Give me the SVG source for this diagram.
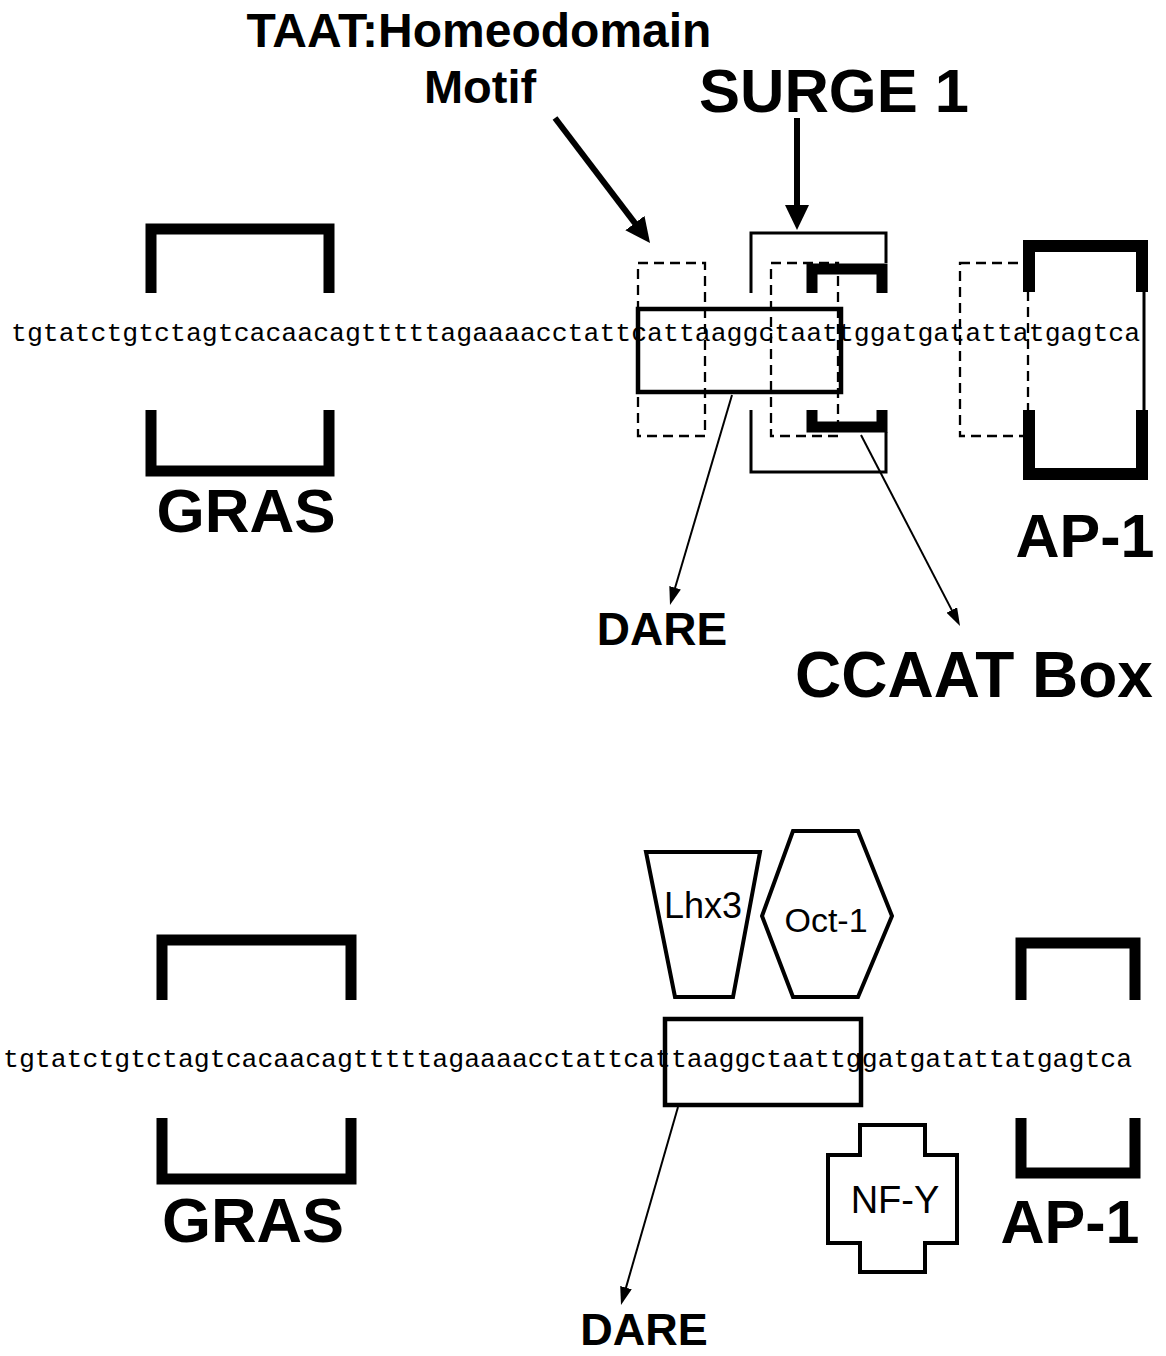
<svg xmlns="http://www.w3.org/2000/svg" width="1166" height="1356" viewBox="0 0 1166 1356">
<style>
.seq{font-family:"Liberation Mono","Courier New",monospace;font-size:26.5px;fill:#000}
.lbl{font-family:"Liberation Sans",Arial,sans-serif;font-weight:bold;fill:#000;text-anchor:middle}
.prot{font-family:"Liberation Sans",Arial,sans-serif;fill:#000;text-anchor:middle}
.brk{fill:none;stroke:#000;stroke-width:11;stroke-linejoin:miter}
.thin{fill:none;stroke:#000;stroke-width:3}
.dash{fill:none;stroke:#000;stroke-width:2.3;stroke-dasharray:10,6}
.box{fill:none;stroke:#000;stroke-width:4.5}
.shape{fill:#fff;stroke:#000;stroke-width:4;stroke-linejoin:miter}
.big{stroke:#000;stroke-width:6;fill:none}
.small{stroke:#000;stroke-width:2;fill:none}
</style>
<defs>
<marker id="headBig" markerUnits="userSpaceOnUse" markerWidth="26" markerHeight="24" refX="1" refY="12" orient="auto"><path d="M0,0 L25,12 L0,24 z" fill="#000"/></marker>
<marker id="headSmall" markerUnits="userSpaceOnUse" markerWidth="19" markerHeight="12" refX="1" refY="6" orient="auto"><path d="M0,0 L18,6 L0,12 z" fill="#000"/></marker>
</defs>
<rect width="1166" height="1356" fill="#fff"/>

<!-- top panel -->
<text class="seq" x="11" y="341">tgtatctgtctagtcacaacagtttttagaaaacctattcattaaggctaattggatgatattatgagtca</text>

<g id="top-labels">
<text class="lbl" x="479" y="47" font-size="48">TAAT:Homeodomain</text>
<text class="lbl" x="480" y="103" font-size="47">Motif</text>
<text class="lbl" x="834" y="112" font-size="61.5">SURGE 1</text>
</g>

<g id="top-gras">
<path class="brk" d="M151 293 V229 H329 V293"/>
<path class="brk" d="M151 410 V471 H329 V410"/>
<text class="lbl" x="246" y="532" font-size="62">GRAS</text>
</g>

<g id="top-taat">
<rect class="dash" x="638" y="263" width="67" height="173"/>
</g>

<g id="top-surge">
<path class="thin" d="M751 293 V233 H886 V263"/>
<path class="thin" d="M751 410 V472 H886 V432"/>
</g>

<g id="top-ccaat">
<rect class="dash" x="771" y="263" width="67" height="173"/>
<path class="brk" d="M812 293 V269 H882 V293"/>
<path class="brk" d="M812 410 V427 H882 V410"/>
</g>

<g id="top-dare">
<rect class="box" x="638" y="309" width="203" height="83"/>
</g>

<g id="top-ap1">
<rect class="dash" x="960" y="263" width="68" height="173"/>
<path class="brk" style="stroke-width:12" d="M1029 292 V246 H1142 V292"/>
<path class="brk" style="stroke-width:12" d="M1029 410 V474 H1142 V410"/>
<line class="thin" x1="1144" y1="292" x2="1144" y2="410"/>
<text class="lbl" x="1085" y="557" font-size="61">AP-1</text>
</g>

<g id="top-dare-label"><text class="lbl" x="662" y="645" font-size="46">DARE</text></g>
<g id="top-ccaat-label"><text class="lbl" x="974" y="697" font-size="64">CCAAT Box</text></g>

<g id="connectors">
<line class="big" x1="555" y1="118" x2="635.5" y2="223.9" marker-end="url(#headBig)"/>
<line class="big" x1="797" y1="118" x2="797" y2="206" marker-end="url(#headBig)"/>
<line class="small" x1="732" y1="395" x2="674.8" y2="588.7" marker-end="url(#headSmall)"/>
<line class="small" x1="861" y1="435" x2="952.2" y2="610.9" marker-end="url(#headSmall)"/>
<line class="small" x1="678" y1="1107" x2="625.7" y2="1288.6" marker-end="url(#headSmall)"/>
</g>

<!-- bottom panel -->
<text class="seq" x="3" y="1067">tgtatctgtctagtcacaacagtttttagaaaacctattcattaaggctaattggatgatattatgagtca</text>

<g id="bottom-gras">
<path class="brk" d="M162 1000 V940 H351 V1000"/>
<path class="brk" d="M162 1118 V1179 H351 V1118"/>
<text class="lbl" x="253" y="1242" font-size="63">GRAS</text>
</g>

<g id="bottom-ap1">
<path class="brk" d="M1021 1000 V943 H1135 V1000"/>
<path class="brk" d="M1021 1118 V1173 H1135 V1118"/>
<text class="lbl" x="1070" y="1243" font-size="61">AP-1</text>
</g>

<g id="lhx3">
<polygon class="shape" points="646,852 760,852 733,997 675,997"/>
<text class="prot" x="703" y="918" font-size="36">Lhx3</text>
</g>

<g id="oct1">
<polygon class="shape" points="793,831 858,831 892,916 858,997 793,997 762,916"/>
<text class="prot" x="826" y="932" font-size="34">Oct-1</text>
</g>

<g id="bottom-dare">
<rect class="box" x="665" y="1019" width="196" height="86"/>
<text class="lbl" x="644" y="1345" font-size="45">DARE</text>
</g>

<g id="nfy">
<polygon class="shape" points="860,1125 925,1125 925,1155 957,1155 957,1243 925,1243 925,1272 860,1272 860,1243 828,1243 828,1155 860,1155"/>
<text class="prot" x="895" y="1213" font-size="38">NF-Y</text>
</g>
</svg>
